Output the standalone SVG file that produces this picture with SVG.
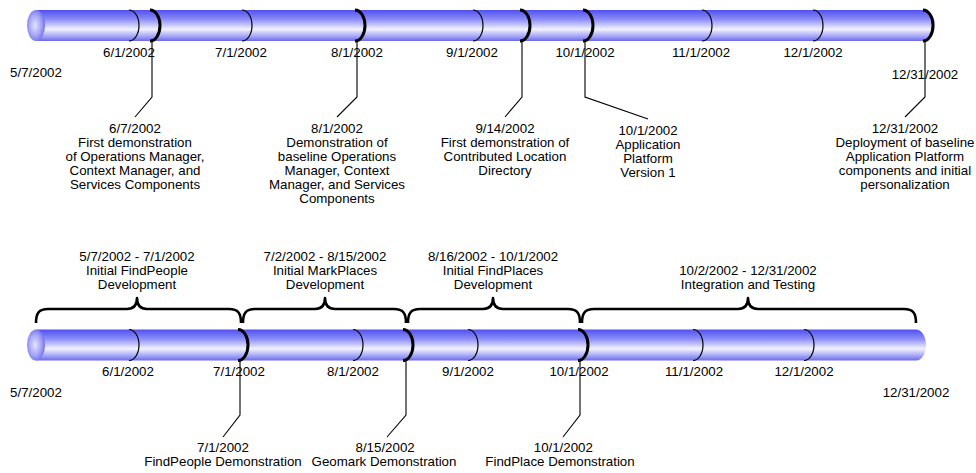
<svg xmlns="http://www.w3.org/2000/svg" width="976" height="473" viewBox="0 0 976 473">
  <defs>
    <linearGradient id="barFill" x1="0" y1="0" x2="0" y2="1">
      <stop offset="0" stop-color="#5050f2"/>
      <stop offset="0.3" stop-color="#8c8cf6"/>
      <stop offset="0.62" stop-color="#f2f2ff"/>
      <stop offset="0.85" stop-color="#a4a4f8"/>
      <stop offset="1" stop-color="#6a6aee"/>
    </linearGradient>
    <radialGradient id="capFill" cx="0.45" cy="0.5" r="0.6">
      <stop offset="0" stop-color="#e4e4ff"/>
      <stop offset="0.6" stop-color="#a0a0f6"/>
      <stop offset="1" stop-color="#6464ec"/>
    </radialGradient>
  </defs>
  <style>
    text { font-family: "Liberation Sans", Arial, sans-serif; font-size: 12px; fill: #000; text-anchor: middle;
           transform-box: fill-box; transform-origin: center; transform: scaleX(1.11); }
    .thin { fill: none; stroke: #000; stroke-width: 1.2; }
    .thick { fill: none; stroke: #000; stroke-width: 3; }
    .lead { fill: none; stroke: #000; stroke-width: 1.1; }
    .brace { fill: none; stroke: #000; stroke-width: 2.6; stroke-linejoin: round; }
  </style>

  <rect width="976" height="473" fill="#fff"/>

  <!-- ===== Top timeline: milestones ===== -->
  <g id="top-bar">
    <path d="M36,10 H923 A12,15.5 0 0 1 923,41 H36 Z" fill="url(#barFill)"/>
    <ellipse cx="36" cy="25.5" rx="9" ry="15.5" fill="url(#capFill)"/>
    <path class="thin" d="M129,10 A10,15.5 0 0 1 129,41"/>
    <path class="thin" d="M242,10 A10,15.5 0 0 1 242,41"/>
    <path class="thin" d="M473,10 A10,15.5 0 0 1 473,41"/>
    <path class="thin" d="M702,10 A10,15.5 0 0 1 702,41"/>
    <path class="thin" d="M813,10 A10,15.5 0 0 1 813,41"/>
  </g>

  <g id="top-dates">
    <text x="36" y="77">5/7/2002</text>
    <text x="129" y="57">6/1/2002</text>
    <text x="241" y="57">7/1/2002</text>
    <text x="357" y="57">8/1/2002</text>
    <text x="472" y="57">9/1/2002</text>
    <text x="585" y="57">10/1/2002</text>
    <text x="701" y="57">11/1/2002</text>
    <text x="813" y="57">12/1/2002</text>
    <text x="925" y="79">12/31/2002</text>
  </g>

  <g id="m-0607">
    <path class="thick" d="M150,10 A10,15.5 0 0 1 150,41"/>
    <text x="135" y="133"><tspan x="135">6/7/2002</tspan><tspan x="135" dy="14">First demonstration</tspan><tspan x="135" dy="14">of Operations Manager,</tspan><tspan x="135" dy="14">Context Manager, and</tspan><tspan x="135" dy="14">Services Components</tspan></text>
  </g>
  <g id="m-0801">
    <path class="thick" d="M355,10 A10,15.5 0 0 1 355,41"/>
    <text x="337" y="133"><tspan x="337">8/1/2002</tspan><tspan x="337" dy="14">Demonstration of</tspan><tspan x="337" dy="14">baseline Operations</tspan><tspan x="337" dy="14">Manager, Context</tspan><tspan x="337" dy="14">Manager, and Services</tspan><tspan x="337" dy="14">Components</tspan></text>
  </g>
  <g id="m-0914">
    <path class="thick" d="M520,10 A10,15.5 0 0 1 520,41"/>
    <text x="505" y="133"><tspan x="505">9/14/2002</tspan><tspan x="505" dy="14">First demonstration of</tspan><tspan x="505" dy="14">Contributed Location</tspan><tspan x="505" dy="14">Directory</tspan></text>
  </g>
  <g id="m-1001">
    <path class="thick" d="M583,10 A10,15.5 0 0 1 583,41"/>
    <text x="648" y="135"><tspan x="648">10/1/2002</tspan><tspan x="648" dy="14">Application</tspan><tspan x="648" dy="14">Platform</tspan><tspan x="648" dy="14">Version 1</tspan></text>
  </g>
  <g id="m-1231">
    <path class="thick" d="M923,10 A10,15.5 0 0 1 923,41"/>
    <text x="905" y="133"><tspan x="905">12/31/2002</tspan><tspan x="905" dy="14">Deployment of baseline</tspan><tspan x="905" dy="14">Application Platform</tspan><tspan x="905" dy="14">components and initial</tspan><tspan x="905" dy="14">personalization</tspan></text>
  </g>

  <!-- ===== Bottom timeline: development phases ===== -->
  <g id="bottom-bar">
    <path d="M36,329.5 H916 A10,15.5 0 0 1 916,360.5 H36 Z" fill="url(#barFill)"/>
    <ellipse cx="36" cy="345" rx="9" ry="15.5" fill="url(#capFill)"/>
    <path class="thin" d="M129,329.5 A10,15.5 0 0 1 129,360.5"/>
    <path class="thin" d="M353,329.5 A10,15.5 0 0 1 353,360.5"/>
    <path class="thin" d="M468,329.5 A10,15.5 0 0 1 468,360.5"/>
    <path class="thin" d="M693,329.5 A10,15.5 0 0 1 693,360.5"/>
    <path class="thin" d="M804,329.5 A10,15.5 0 0 1 804,360.5"/>
  </g>

  <g id="bottom-dates">
    <text x="36" y="397">5/7/2002</text>
    <text x="128" y="376">6/1/2002</text>
    <text x="239" y="376">7/1/2002</text>
    <text x="353" y="376">8/1/2002</text>
    <text x="468" y="376">9/1/2002</text>
    <text x="579" y="376">10/1/2002</text>
    <text x="694" y="376">11/1/2002</text>
    <text x="804" y="376">12/1/2002</text>
    <text x="916" y="397">12/31/2002</text>
  </g>

  <g id="d-0701">
    <path class="thick" d="M238,329.5 A10,15.5 0 0 1 238,360.5"/>
    <text x="223" y="452"><tspan x="223">7/1/2002</tspan><tspan x="223" dy="14">FindPeople Demonstration</tspan></text>
  </g>
  <g id="d-0815">
    <path class="thick" d="M403,329.5 A10,15.5 0 0 1 403,360.5"/>
    <text x="385" y="452"><tspan x="385">8/15/2002</tspan><tspan x="384" dy="14">Geomark Demonstration</tspan></text>
  </g>
  <g id="d-1001">
    <path class="thick" d="M578,329.5 A10,15.5 0 0 1 578,360.5"/>
    <text x="563" y="452"><tspan x="563">10/1/2002</tspan><tspan x="560" dy="14">FindPlace Demonstration</tspan></text>
  </g>

  <g id="phase-findpeople">
    <path class="brace" d="M36,323 C36,313 39,309 48,309 H127 C133,309 137,306 137,298 C137,306 141,309 147,309 H229 C238,309 241,313 241,323"/>
    <text x="137" y="261"><tspan x="137">5/7/2002 - 7/1/2002</tspan><tspan x="137" dy="14">Initial FindPeople</tspan><tspan x="137" dy="14">Development</tspan></text>
  </g>
  <g id="phase-markplaces">
    <path class="brace" d="M243,323 C243,313 246,309 255,309 H315 C321,309 325,306 325,298 C325,306 329,309 335,309 H394 C403,309 406,313 406,323"/>
    <text x="325" y="261"><tspan x="325">7/2/2002 - 8/15/2002</tspan><tspan x="325" dy="14">Initial MarkPlaces</tspan><tspan x="325" dy="14">Development</tspan></text>
  </g>
  <g id="phase-findplaces">
    <path class="brace" d="M408,323 C408,313 411,309 420,309 H483 C489,309 493,306 493,298 C493,306 497,309 503,309 H568 C577,309 580,313 580,323"/>
    <text x="493" y="261"><tspan x="493">8/16/2002 - 10/1/2002</tspan><tspan x="493" dy="14">Initial FindPlaces</tspan><tspan x="493" dy="14">Development</tspan></text>
  </g>
  <g id="phase-integration">
    <path class="brace" d="M582,323 C582,313 585,309 594,309 H738 C744,309 748,306 748,298 C748,306 752,309 758,309 H904 C913,309 916,313 916,323"/>
    <text x="748" y="275"><tspan x="748">10/2/2002 - 12/31/2002</tspan><tspan x="748" dy="14">Integration and Testing</tspan></text>
  </g>

  <!-- Leader lines from milestone arcs to their captions -->
  <g id="connectors">
    <polyline class="lead" points="152,41 152,97 135,117"/>
    <polyline class="lead" points="357,41 357,97 337,117"/>
    <polyline class="lead" points="522,41 522,97 505,117"/>
    <polyline class="lead" points="585,41 585,97 648,119"/>
    <polyline class="lead" points="925,41 925,97 905,117"/>
    <polyline class="lead" points="240,361 240,415 223,437"/>
    <polyline class="lead" points="406,361 406,415 387,437"/>
    <polyline class="lead" points="580,361 580,415 563,437"/>
  </g>
</svg>
